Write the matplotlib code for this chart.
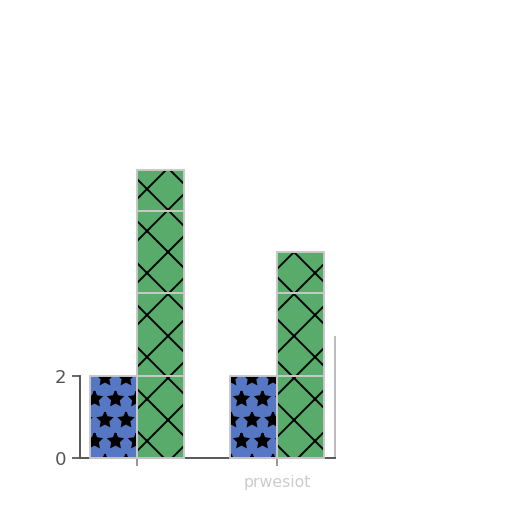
import matplotlib
matplotlib.use("Agg")
import matplotlib.pyplot as plt
import numpy as np

groups = ["", "prwesiot"]
blue_vals = [2, 2]
green_segments = [  # stacked pieces of each green bar
    [2, 2],
    [2, 2],
    [2, 1],
    [1, 0],
]

BLUE = "#5678c4"
GREEN = "#58ab6a"
EDGE = "#c8c8c8"
W = 0.336
DPI = 126  # hatch spacing scales with dpi

plt.rcParams["hatch.linewidth"] = 1.1

fig = plt.figure(figsize=(512 / DPI, 512 / DPI), dpi=DPI)
ax = fig.add_axes([0.156, 0.105, 0.498, 0.161])
x = np.arange(len(groups))


def hatched(xpos, h, bottom, color, hatch):
    # fill + black hatch, then a light outline on top
    ax.bar(xpos, h, W, bottom=bottom, color=color, edgecolor="black", lw=0,
           hatch=hatch, clip_on=False, zorder=2)
    ax.bar(xpos, h, W, bottom=bottom, fill=False, edgecolor=EDGE, lw=1.1,
           clip_on=False, zorder=3)


hatched(x - W / 2, blue_vals, 0, BLUE, "*")
bottom = np.zeros(len(groups))
for seg in green_segments:
    seg = np.array(seg, dtype=float)
    hatched(x + W / 2, seg, bottom, GREEN, "x")
    bottom += seg

ax.set_xlim(-0.407, 1.414)
ax.set_ylim(0, 2)
ax.set_yticks([0, 2])
ax.set_xticks(x)
ax.set_xticklabels(groups, color="#cccccc", fontsize=9)
ax.tick_params(axis="y", labelsize=10.4, labelcolor="#555555", color="#555555",
               length=4.6, width=1.0, pad=3)
ax.tick_params(axis="x", color="#888888", length=4.6, width=1.0, pad=5)
ax.spines["top"].set_visible(False)
for s in ("left", "bottom", "right"):
    ax.spines[s].set_color("#555555")
    ax.spines[s].set_linewidth(1.1)
ax.spines["right"].set_bounds(0, 2.95)
ax.spines["right"].set_color("#bbbbbb")

fig.savefig("out.png", dpi=DPI)
